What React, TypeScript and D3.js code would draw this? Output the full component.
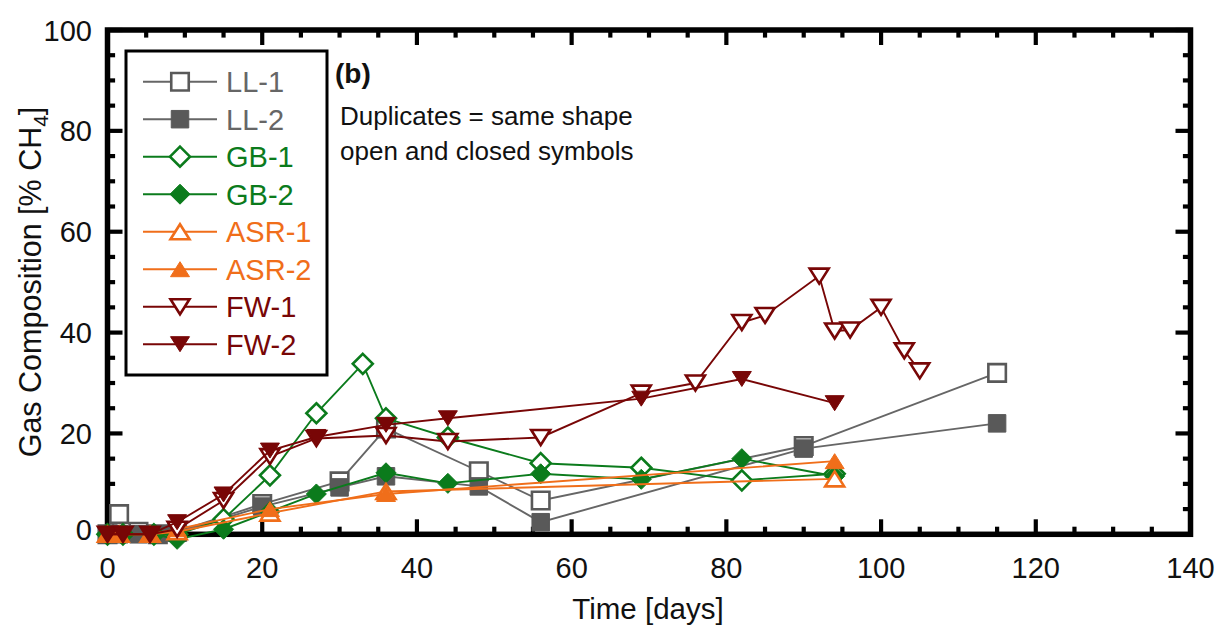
import React from "react";
import * as d3 from "d3";

// ---- data ----
const llDays = [0, 1.5, 4, 6.5, 9, 20, 30, 36, 48, 56, 90, 115];
const ll1 = [0, 4, 0.5, 0, 0.5, 6, 10.5, 21, 12.5, 6.7, 17.5, 32];
const ll2 = [0, 0, 0, 0, 0.3, 5.5, 9.3, 11.5, 9.5, 2.4, 17, 22];

const gb1Days = [0, 2, 6, 9, 15, 21, 27, 33, 36, 44, 56, 69, 82, 94];
const gb1 = [0, 0, 0, 0, 3, 11.7, 24, 33.8, 23, 19.2, 14.1, 13.2, 10.7, 12];
const gb2Days = [0, 2, 6, 9, 15, 21, 27, 36, 44, 56, 69, 82, 94];
const gb2 = [0, 0, 0, -1, 1, 4.5, 8, 12.2, 10.1, 12, 10.9, 15, 11.5];

const asrDays = [0, 1.5, 5.5, 9, 21, 36, 94];
const asr1 = [0, 0, 0, 0.5, 4.2, 8.5, 11];
const asr2 = [0, 0, 0, 1, 5, 8, 14.5];

const fw1Days = [0, 2, 5.5, 9, 15, 21, 27, 36, 44, 56, 69, 76, 82, 85, 92, 94, 96, 100, 103, 105];
const fw1 = [0, 0, 0, 1, 6.7, 15.4, 19, 19.6, 18.4, 19.2, 28, 30, 42, 43.4, 51.2, 40.3, 40.5, 45, 36.4, 32.4];
const fw2Days = [0, 2, 5.5, 9, 15, 21, 27, 36, 44, 69, 82, 94];
const fw2 = [0, 0, 0, 2.4, 7.9, 16.6, 19.3, 21.7, 23, 26.9, 30.8, 26];

const xTicksMajor = [0, 20, 40, 60, 80, 100, 120, 140];
const yTicksMajor = [0, 20, 40, 60, 80, 100];

const GRAY = "#595959";
const GREEN = "#0b7b1c";
const ORANGE = "#f06e1a";
const RED = "#780606";

type Shape = "square" | "diamond" | "up" | "down";
interface Series { name: string; days: number[]; vals: number[]; color: string; lineColor: string; shape: Shape; filled: boolean; }

const series: Series[] = [
  { name: "LL-1", days: llDays, vals: ll1, color: GRAY, lineColor: "#666", shape: "square", filled: false },
  { name: "LL-2", days: llDays, vals: ll2, color: GRAY, lineColor: "#666", shape: "square", filled: true },
  { name: "GB-1", days: gb1Days, vals: gb1, color: GREEN, lineColor: GREEN, shape: "diamond", filled: false },
  { name: "GB-2", days: gb2Days, vals: gb2, color: GREEN, lineColor: GREEN, shape: "diamond", filled: true },
  { name: "ASR-1", days: asrDays, vals: asr1, color: ORANGE, lineColor: ORANGE, shape: "up", filled: false },
  { name: "ASR-2", days: asrDays, vals: asr2, color: ORANGE, lineColor: ORANGE, shape: "up", filled: true },
  { name: "FW-1", days: fw1Days, vals: fw1, color: RED, lineColor: RED, shape: "down", filled: false },
  { name: "FW-2", days: fw2Days, vals: fw2, color: RED, lineColor: RED, shape: "down", filled: true },
];

function markerPath(shape: Shape, cx: number, cy: number): string {
  switch (shape) {
    case "square": {
      const s = 17.5;
      return `M${cx - s / 2},${cy - s / 2}h${s}v${s}h${-s}Z`;
    }
    case "diamond": {
      const r = 10;
      return `M${cx},${cy - r}L${cx + r},${cy}L${cx},${cy + r}L${cx - r},${cy}Z`;
    }
    case "up": {
      const w = 19, h = 15;
      return `M${cx},${cy - h / 2}L${cx + w / 2},${cy + h / 2}L${cx - w / 2},${cy + h / 2}Z`;
    }
    case "down": {
      const w = 19, h = 15;
      return `M${cx},${cy + h / 2}L${cx + w / 2},${cy - h / 2}L${cx - w / 2},${cy - h / 2}Z`;
    }
  }
}

function Marker({ s, cx, cy }: { s: Series; cx: number; cy: number }) {
  return (
    <path
      d={markerPath(s.shape, cx, cy)}
      fill={s.filled ? s.color : "#fff"}
      stroke={s.color}
      strokeWidth={s.filled ? 1 : 2.6}
      strokeLinejoin="miter"
    />
  );
}

export default function App() {
  const W = 1225, H = 633;
  const x = d3.scaleLinear().domain([0, 140]).range([107.5, 1190.5]);
  const y = d3.scaleLinear().domain([0, 100]).range([534.3, 30]);
  const [x0, x1] = x.range();
  const [y0, y1] = y.range();
  const font = "'Liberation Sans', Arial, Helvetica, sans-serif";

  const xMinor = d3.range(0, 141, 5).filter((v) => v % 20 !== 0);
  const yMinor = d3.range(0, 101, 5).filter((v) => v % 20 !== 0);
  const MAJ = 15, MIN = 7.6, TW = 4.2;

  const line = d3.line<[number, number]>().x((d) => x(d[0])).y((d) => y(d[1]));

  const legX = 126, legY = 51, legW = 201, legH = 324;
  const rowY = (i: number) => 81.7 + i * 37.5;

  return (
    <svg width={W} height={H} style={{ position: "absolute", left: 0, top: 0, display: "block" }} fontFamily={font}>
      <rect x={0} y={0} width={W} height={H} fill="#fff" />
      {/* ticks */}
      <g stroke="#000" strokeWidth={TW}>
        {xTicksMajor.map((v) => (
          <g key={"xM" + v}>
            <line x1={x(v)} x2={x(v)} y1={y0} y2={y0 - MAJ} />
            <line x1={x(v)} x2={x(v)} y1={y1} y2={y1 + MAJ} />
          </g>
        ))}
        {xMinor.map((v) => (
          <g key={"xm" + v}>
            <line x1={x(v)} x2={x(v)} y1={y0} y2={y0 - MIN} />
            <line x1={x(v)} x2={x(v)} y1={y1} y2={y1 + MIN} />
          </g>
        ))}
        {yTicksMajor.map((v) => (
          <g key={"yM" + v}>
            <line x1={x0} x2={x0 + MAJ} y1={y(v)} y2={y(v)} />
            <line x1={x1} x2={x1 - MAJ} y1={y(v)} y2={y(v)} />
          </g>
        ))}
        {yMinor.map((v) => (
          <g key={"ym" + v}>
            <line x1={x0} x2={x0 + MIN} y1={y(v)} y2={y(v)} />
            <line x1={x1} x2={x1 - MIN} y1={y(v)} y2={y(v)} />
          </g>
        ))}
      </g>
      <rect x={x0} y={y1} width={x1 - x0} height={y0 - y1} fill="none" stroke="#000" strokeWidth={5.5} />

      {/* tick labels */}
      <g fontSize={29} fill="#111">
        {xTicksMajor.map((v) => (
          <text key={"xl" + v} x={x(v)} y={578} textAnchor="middle">{v}</text>
        ))}
        {yTicksMajor.map((v) => (
          <text key={"yl" + v} x={92} y={y(v) + (v === 0 ? 6 : 10.5)} textAnchor="end">{v}</text>
        ))}
      </g>

      {/* axis titles */}
      <text x={648} y={619} textAnchor="middle" fontSize={29.5} fill="#111">Time [days]</text>
      <text transform="translate(41,282) rotate(-90)" textAnchor="middle" fontSize={30.5} fill="#111">
        Gas Composition [% CH<tspan dy={7} fontSize={21}>4</tspan><tspan dy={-7}>]</tspan>
      </text>

      {/* annotations */}
      <text x={335} y={83} fontSize={28} fontWeight="bold" fill="#111">(b)</text>
      <text x={340} y={125} fontSize={26} fill="#111">Duplicates = same shape</text>
      <text x={340} y={160} fontSize={26} fill="#111">open and closed symbols</text>

      {/* data */}
      {series.map((s) => {
        const pts: [number, number][] = s.days.map((d, i) => [d, s.vals[i]]);
        return (
          <g key={s.name}>
            <path d={line(pts) || ""} fill="none" stroke={s.lineColor} strokeWidth={1.9} />
            {pts.map((p, i) => (
              <Marker key={i} s={s} cx={x(p[0])} cy={y(p[1])} />
            ))}
          </g>
        );
      })}

      {/* legend */}
      <rect x={legX} y={legY} width={legW} height={legH} fill="#fff" stroke="#000" strokeWidth={3} />
      {series.map((s, i) => (
        <g key={"leg" + s.name}>
          <line x1={143} x2={217} y1={rowY(i)} y2={rowY(i)} stroke={s.lineColor} strokeWidth={1.9} />
          <Marker s={s} cx={180} cy={rowY(i)} />
          <text x={226} y={rowY(i) + 10.5} fontSize={29} fill={s.color === GRAY ? "#666" : s.color}>{s.name}</text>
        </g>
      ))}
    </svg>
  );
}
